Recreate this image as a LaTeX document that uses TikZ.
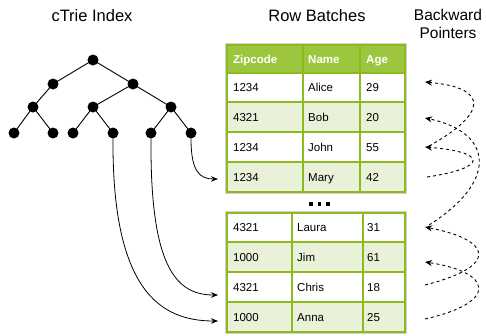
\documentclass[tikz,border=0pt]{standalone}
\usepackage{fontspec}
\setmainfont{Liberation Sans}
\usetikzlibrary{arrows.meta}
\definecolor{hdr}{HTML}{9DC63F}
\definecolor{grn}{HTML}{8DBB1E}
\definecolor{alt}{HTML}{EAF1D9}
\begin{document}
\begin{tikzpicture}[x=1pt,y=-1pt,
  dot/.style={circle,fill=black,inner sep=0pt,minimum size=11pt},
  edge/.style={line width=0.9pt},
  title/.style={font=\fontsize{16.5}{18}\selectfont,align=center,inner sep=0pt},
  cell/.style={anchor=base west,inner sep=0pt,font=\fontsize{11.5}{13}\selectfont},
  hcell/.style={cell,text=white,font=\fontsize{11.5}{13}\selectfont\bfseries},
  tbl/.style={draw=grn,line width=1.1pt},
  ptr/.style={line width=0.8pt,-{Stealth[length=7pt,width=5.5pt]}},
  bptr/.style={line width=0.9pt,dash pattern=on 3pt off 3pt,-{Stealth[length=7pt,width=6pt]}},
  sq/.style={fill=black,inner sep=0pt,minimum size=3.4pt}
]
\useasboundingbox (0,0) rectangle (486,335);

% titles
\node[title] (t1) at (92,16) {cTrie Index};
\node[title] (t2) at (317,16) {Row Batches};
\node[title,font=\fontsize{15.5}{17.5}\selectfont] (t3) at (448,24) {Backward\\Pointers};

% tree
\node[dot] (r) at (93,60) {};
\node[dot] (a) at (53,84) {};
\node[dot] (b) at (133,84) {};
\node[dot] (a1) at (33,107) {};
\node[dot] (b1) at (93,107) {};
\node[dot] (b2) at (171,107) {};
\node[dot] (l1) at (14,133) {};
\node[dot] (l2) at (53,133) {};
\node[dot] (l3) at (73,133) {};
\node[dot] (l4) at (113,133) {};
\node[dot] (l5) at (151,133) {};
\node[dot] (l6) at (191,133) {};
\draw[edge] (r.center) -- (a.center) (r.center) -- (b.center)
  (a.center) -- (a1.center) (a1.center) -- (l1.center) (a1.center) -- (l2.center)
  (b.center) -- (b1.center) (b.center) -- (b2.center)
  (b1.center) -- (l3.center) (b1.center) -- (l4.center)
  (b2.center) -- (l5.center) (b2.center) -- (l6.center);

% top table
\draw[gray!35,line width=0.8pt] (225.5,43.5) rectangle (406.5,193.5);
\fill[hdr] (227,45) rectangle (405,73);
\fill[alt] (227,102) rectangle (405,132);
\fill[alt] (227,162) rectangle (405,192);
\draw[tbl] (227,45) rectangle (405,192);
\foreach \y in {73,102,132,162} \draw[tbl] (227,\y) -- (405,\y);
\foreach \x in {303,360} \draw[tbl] (\x,45) -- (\x,192);

\node[hcell] (h1) at (233,63.2) {Zipcode};
\node[hcell] (h2) at (308,63.2) {Name};
\node[hcell] (h3) at (366,63.2) {Age};
\node[cell] (c11) at (233,91.7) {1234};  \node[cell] (c12) at (308,91.7) {Alice}; \node[cell] (c13) at (366,91.7) {29};
\node[cell] (c21) at (233,121.2) {4321}; \node[cell] (c22) at (308,121.2) {Bob};  \node[cell] (c23) at (366,121.2) {20};
\node[cell] (c31) at (233,151.2) {1234}; \node[cell] (c32) at (308,151.2) {John}; \node[cell] (c33) at (366,151.2) {55};
\node[cell] (c41) at (233,181.2) {1234}; \node[cell] (c42) at (308,181.2) {Mary}; \node[cell] (c43) at (366,181.2) {42};

% dots
\node[sq] (d1) at (311,204) {};
\node[sq] (d2) at (319.5,204) {};
\node[sq] (d3) at (328,204) {};

% bottom table
\draw[gray!35,line width=0.8pt] (225.5,211.5) rectangle (406.5,333.5);
\fill[alt] (227,242) rectangle (405,272);
\fill[alt] (227,302) rectangle (405,332);
\draw[tbl] (227,213) rectangle (405,332);
\foreach \y in {242,272,302} \draw[tbl] (227,\y) -- (405,\y);
\foreach \x in {292,363} \draw[tbl] (\x,213) -- (\x,332);

\node[cell] (e11) at (233,231.7) {4321}; \node[cell] (e12) at (297,231.7) {Laura}; \node[cell] (e13) at (367,231.7) {31};
\node[cell] (e21) at (233,261.2) {1000}; \node[cell] (e22) at (297,261.2) {Jim};   \node[cell] (e23) at (367,261.2) {61};
\node[cell] (e31) at (233,291.2) {4321}; \node[cell] (e32) at (297,291.2) {Chris}; \node[cell] (e33) at (367,291.2) {18};
\node[cell] (e41) at (233,321.2) {1000}; \node[cell] (e42) at (297,321.2) {Anna};  \node[cell] (e43) at (367,321.2) {25};

% forward pointers
\coordinate (pMary) at (218,179);
\coordinate (pChris) at (218,295);
\coordinate (pAnna) at (218,321);
\draw[ptr] (l6.south) .. controls (191,172) and (200,179) .. (pMary);
\draw[ptr] (l5.south) .. controls (150,265) and (175,295) .. (pChris);
\draw[ptr] (l4.south) .. controls (112,290) and (160,321) .. (pAnna);

% backward pointers
\coordinate (sJohn) at (429,146);
\coordinate (sMary) at (427,177);
\coordinate (sLaura) at (429,225);
\coordinate (sChris) at (425,285);
\coordinate (sAnna) at (425,319);
\coordinate (aAlice) at (425,82);
\coordinate (aBob) at (425,118);
\coordinate (aJohn) at (425,147);
\coordinate (aLaura) at (425,227);
\coordinate (aJim) at (425,262);
\draw[bptr] (sJohn) .. controls (485,115) and (492,88) .. (aAlice);
\draw[bptr] (sMary) .. controls (488,168) and (488,152) .. (aJohn);
\draw[bptr] (sLaura) .. controls (500,180) and (492,132) .. (aBob);
\draw[bptr] (sChris) .. controls (500,266) and (492,240) .. (aLaura);
\draw[bptr] (sAnna) .. controls (500,302) and (492,272) .. (aJim);
\end{tikzpicture}
\end{document}
